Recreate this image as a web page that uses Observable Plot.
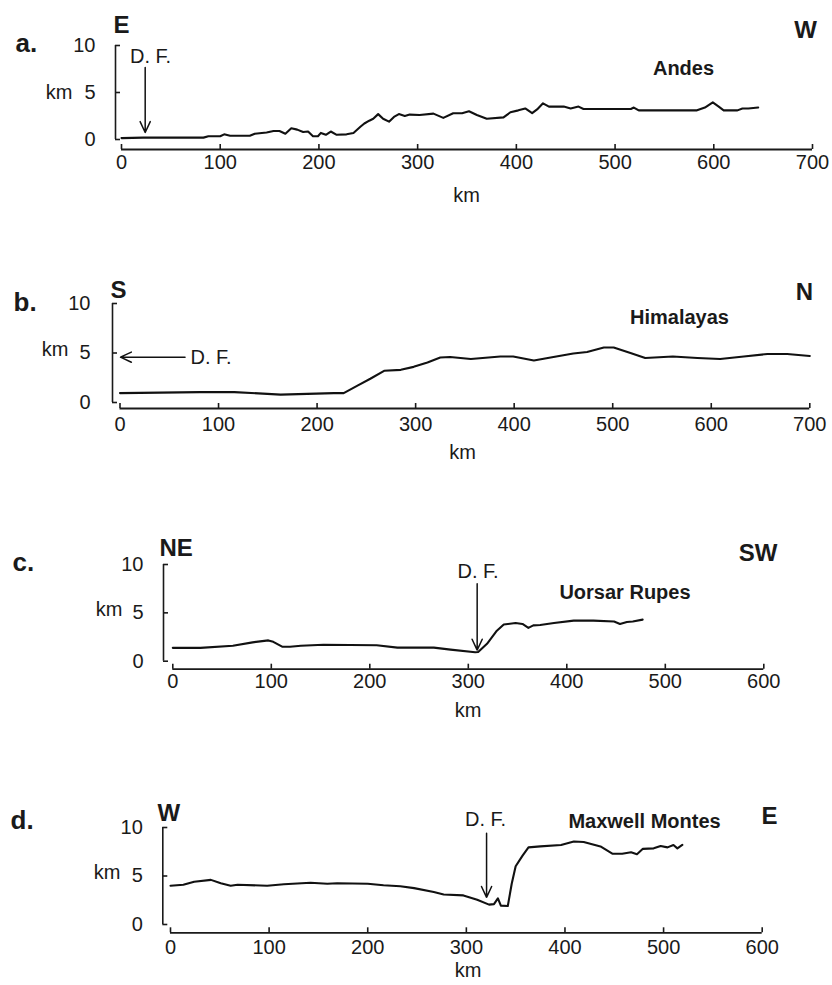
<!DOCTYPE html>
<html>
<head>
<meta charset="utf-8">
<script src="https://cdn.jsdelivr.net/npm/d3@7"></script>
<script src="https://cdn.jsdelivr.net/npm/@observablehq/plot@0.6"></script>
<style>
  body { margin: 0; background: #ffffff; }
  #page { position: relative; width: 832px; height: 985px; overflow: hidden; background: #ffffff; }
  #page svg { position: absolute; left: 0; }
</style>
</head>
<body>
<div id="page"></div>
<script>
// ---------------- DATA ----------------
// a. Andes (distance km, elevation km)
const andesKm   = [0, 22, 83, 88, 100, 104, 110, 130, 135, 147, 154, 160, 166, 172, 178, 184, 189, 194, 199, 202, 207, 212, 218, 228, 235, 242, 246, 251, 255, 260, 265, 271, 276, 281, 287, 292, 302, 316, 326, 336, 345, 352, 360, 370, 387, 394, 402, 409, 416, 421, 427, 433, 448, 455, 463, 468, 516, 519, 524, 583, 591, 599, 605, 610, 624, 629, 635, 645];
const andesElev = [0.15, 0.2, 0.2, 0.35, 0.35, 0.55, 0.4, 0.4, 0.62, 0.75, 0.9, 0.9, 0.62, 1.2, 1.05, 0.8, 0.85, 0.35, 0.35, 0.7, 0.5, 0.85, 0.5, 0.55, 0.7, 1.35, 1.7, 2.0, 2.2, 2.7, 2.2, 1.9, 2.4, 2.7, 2.5, 2.65, 2.6, 2.75, 2.3, 2.8, 2.8, 3.0, 2.6, 2.2, 2.35, 2.9, 3.1, 3.3, 2.8, 3.2, 3.85, 3.5, 3.5, 3.3, 3.5, 3.25, 3.25, 3.4, 3.1, 3.1, 3.4, 3.95, 3.5, 3.1, 3.1, 3.3, 3.3, 3.4];

// b. Himalayas
const himKm   = [0, 81, 116, 163, 217, 227, 241, 254, 268, 285, 298, 312, 325, 335, 356, 386, 399, 420, 437, 460, 474, 491, 501, 518, 533, 561, 586, 609, 633, 657, 677, 700];
const himElev = [0.95, 1.05, 1.05, 0.8, 0.95, 0.95, 1.7, 2.4, 3.2, 3.3, 3.6, 4.05, 4.55, 4.6, 4.4, 4.65, 4.65, 4.25, 4.55, 4.95, 5.1, 5.55, 5.55, 5.0, 4.5, 4.65, 4.5, 4.4, 4.65, 4.9, 4.9, 4.7];

// c. Uorsar Rupes
const uorKm   = [0, 28, 61, 81, 97, 102, 111, 119, 130, 153, 207, 228, 251, 265, 282, 307, 310, 319, 329, 336, 348, 355, 361, 366, 373, 387, 407, 427, 448, 454, 461, 467, 477];
const uorElev = [1.38, 1.38, 1.6, 1.95, 2.15, 2.0, 1.5, 1.5, 1.6, 1.7, 1.65, 1.4, 1.4, 1.4, 1.2, 0.93, 0.95, 1.8, 3.15, 3.8, 3.95, 3.85, 3.45, 3.7, 3.75, 3.95, 4.2, 4.2, 4.1, 3.85, 4.05, 4.1, 4.3];

// d. Maxwell Montes
const maxKm   = [0, 13, 24, 41, 51, 61, 68, 98, 115, 142, 159, 169, 200, 216, 233, 247, 267, 277, 297, 311, 323, 328, 332, 335, 342, 346, 350, 357, 363, 375, 396, 409, 419, 436, 448, 458, 467, 473, 479, 490, 497, 504, 510, 514, 519];
const maxElev = [4.0, 4.1, 4.4, 4.6, 4.25, 4.0, 4.1, 4.0, 4.15, 4.3, 4.2, 4.25, 4.2, 4.05, 3.95, 3.75, 3.35, 3.1, 3.0, 2.55, 2.05, 2.1, 2.7, 1.95, 1.9, 4.2, 6.0, 7.1, 7.95, 8.05, 8.2, 8.55, 8.5, 8.05, 7.3, 7.3, 7.45, 7.25, 7.8, 7.85, 8.1, 7.95, 8.2, 7.85, 8.2];

// Ticks
const yTicks = [0, 5, 10];
const xTicks700 = [0, 100, 200, 300, 400, 500, 600, 700];
const xTicks600 = [0, 100, 200, 300, 400, 500, 600];

// Panel texts
const panelLetters = ["a.", "b.", "c.", "d."];
const leftDirs  = ["E", "S", "NE", "W"];
const rightDirs = ["W", "N", "SW", "E"];
const rangeNames = ["Andes", "Himalayas", "Uorsar Rupes", "Maxwell Montes"];
const dfLabel = "D. F.";
const unitLabel = "km";

// Deformation-front arrows: [x1, y1, x2, y2] in km
const dfArrowA = [24, 7.65, 24, 0.75];
const dfArrowB = [66, 4.58, 0.5, 4.58];
const dfArrowC = [309, 8.0, 309, 1.15];
const dfArrowD = [320.5, 9.4, 320.5, 2.8];

// ---------------- LAYOUT ----------------
const FONT = "'Liberation Sans', Arial, Helvetica, sans-serif";
const INK = "#1a1a1a";
const W = 832;

const panels = [
  { top: 0, height: 215, xMax: 700, xTicks: xTicks700, km: andesKm, elev: andesElev, arrow: dfArrowA,
    marginTop: 45, marginBottom: 66, insetBottom: 10, marginLeft: 115, insetLeft: 6, marginRight: 20,
    xPad: 5, yPad: 20,
    labels: [
      {t: panelLetters[0], x: 15, y: 43, a: "start", s: 26, w: "bold"},
      {t: leftDirs[0], x: 113, y: 24.5, a: "start", s: 24, w: "bold"},
      {t: rightDirs[0], x: 805, y: 29.5, a: "middle", s: 24, w: "bold"},
      {t: rangeNames[0], x: 683, y: 68.5, a: "middle", s: 20, w: "bold", sp: true},
      {t: dfLabel, x: 150, y: 56.5, a: "middle", s: 20, w: "normal", sp: true},
      {t: unitLabel, x: 72, y: 92, a: "end", s: 20, w: "normal"},
      {t: unitLabel, x: 466, y: 195, a: "middle", s: 20, w: "normal"}
    ]},
  { top: 215, height: 250, xMax: 700, xTicks: xTicks700, km: himKm, elev: himElev, arrow: dfArrowB,
    marginTop: 88, marginBottom: 57, insetBottom: 6, marginLeft: 112, insetLeft: 7.5, marginRight: 22.7,
    xPad: 8, yPad: 22,
    labels: [
      {t: panelLetters[1], x: 13, y: 302, a: "start", s: 26, w: "bold"},
      {t: leftDirs[1], x: 110, y: 289.5, a: "start", s: 24, w: "bold"},
      {t: rightDirs[1], x: 804, y: 292, a: "middle", s: 24, w: "bold"},
      {t: rangeNames[1], x: 679, y: 317, a: "middle", s: 20, w: "bold", sp: true},
      {t: dfLabel, x: 190, y: 357, a: "start", s: 20, w: "normal", sp: true},
      {t: unitLabel, x: 68, y: 349, a: "end", s: 20, w: "normal"},
      {t: unitLabel, x: 462, y: 452, a: "middle", s: 20, w: "normal"}
    ]},
  { top: 465, height: 265, xMax: 600, xTicks: xTicks600, km: uorKm, elev: uorElev, arrow: dfArrowC,
    marginTop: 99, marginBottom: 61.3, insetBottom: 8, marginLeft: 163, insetLeft: 9.3, marginRight: 68.7,
    xPad: 5, yPad: 20,
    labels: [
      {t: panelLetters[2], x: 12, y: 562, a: "start", s: 26, w: "bold"},
      {t: leftDirs[2], x: 159, y: 548, a: "start", s: 24, w: "bold"},
      {t: rightDirs[2], x: 757.5, y: 553, a: "middle", s: 24, w: "bold"},
      {t: rangeNames[2], x: 624.5, y: 592, a: "middle", s: 20, w: "bold", sp: true},
      {t: dfLabel, x: 477.5, y: 571, a: "middle", s: 20, w: "normal", sp: true},
      {t: unitLabel, x: 122, y: 609, a: "end", s: 20, w: "normal"},
      {t: unitLabel, x: 467.5, y: 710, a: "middle", s: 20, w: "normal"}
    ]},
  { top: 730, height: 255, xMax: 600, xTicks: xTicks600, km: maxKm, elev: maxElev, arrow: dfArrowD,
    marginTop: 97, marginBottom: 52.7, insetBottom: 8.3, marginLeft: 162.3, insetLeft: 7.7, marginRight: 70.3,
    xPad: 7, yPad: 20,
    labels: [
      {t: panelLetters[3], x: 10, y: 820, a: "start", s: 26, w: "bold"},
      {t: leftDirs[3], x: 157, y: 812.5, a: "start", s: 24, w: "bold"},
      {t: rightDirs[3], x: 769, y: 816, a: "middle", s: 24, w: "bold"},
      {t: rangeNames[3], x: 644, y: 821.5, a: "middle", s: 20, w: "bold", sp: true},
      {t: dfLabel, x: 485, y: 819, a: "middle", s: 20, w: "normal", sp: true},
      {t: unitLabel, x: 120, y: 872, a: "end", s: 20, w: "normal"},
      {t: unitLabel, x: 467.5, y: 970, a: "middle", s: 20, w: "normal"}
    ]}
];

function buildPanel(cfg) {
  const rows = cfg.km.map((k, i) => ({km: k, elev: cfg.elev[i]}));
  const arrowRows = [{x1: cfg.arrow[0], y1: cfg.arrow[1], x2: cfg.arrow[2], y2: cfg.arrow[3]}];
  const frameW = W - cfg.marginLeft - cfg.marginRight;
  const frameH = cfg.height - cfg.marginTop - cfg.marginBottom;
  const labelMarks = cfg.labels.map(L => Plot.text([L.t], {
    text: d => d,
    frameAnchor: "top-left",
    dx: L.x - cfg.marginLeft,
    dy: L.y - cfg.top - cfg.marginTop,
    textAnchor: L.a,
    lineAnchor: "middle",
    fontSize: L.s,
    fontWeight: L.w,
    fill: INK,
    ariaLabel: L.sp ? "spaced-label" : "label"
  }));
  const svg = Plot.plot({
    width: W,
    height: cfg.height,
    marginTop: cfg.marginTop,
    marginBottom: cfg.marginBottom,
    marginLeft: cfg.marginLeft,
    marginRight: cfg.marginRight,
    style: {fontFamily: FONT, fontSize: "20px", color: INK, background: "transparent", overflow: "visible"},
    x: {domain: [0, cfg.xMax], insetLeft: cfg.insetLeft},
    y: {domain: [0, 10], insetBottom: cfg.insetBottom},
    marks: [
      // y-axis bracket: vertical line + inward ticks
      Plot.ruleX([0], {y1: 0, y2: 10, dx: -cfg.insetLeft, stroke: INK, strokeWidth: 1.6}),
      Plot.tickY(yTicks, {y: d => d, insetRight: frameW - 5, stroke: INK, strokeWidth: 1.6}),
      Plot.axisY(yTicks, {tickSize: 0, tickPadding: cfg.yPad, fill: INK, label: null}),
      // x axis: line + upward ticks
      Plot.ruleY([0], {x1: 0, x2: cfg.xMax, dy: cfg.insetBottom, stroke: INK, strokeWidth: 1.8}),
      Plot.tickX(cfg.xTicks, {x: d => d, insetTop: frameH - 5, stroke: INK, strokeWidth: 1.6}),
      Plot.axisX(cfg.xTicks, {tickSize: 0, tickPadding: cfg.xPad, fill: INK, label: null}),
      // profile
      Plot.line(rows, {x: "km", y: "elev", stroke: "#111", strokeWidth: 2.1, strokeLinejoin: "round"}),
      // deformation-front arrow
      Plot.arrow(arrowRows, {x1: "x1", y1: "y1", x2: "x2", y2: "y2", stroke: "#111", strokeWidth: 1.5, headLength: 12, headAngle: 50}),
      ...labelMarks
    ]
  });
  svg.style.top = cfg.top + "px";
  d3.select(svg).selectAll('g[aria-label="spaced-label"] text').attr("letter-spacing", "1px");
  return svg;
}

const page = document.getElementById("page");
panels.forEach(cfg => page.appendChild(buildPanel(cfg)));
</script>
</body>
</html>
